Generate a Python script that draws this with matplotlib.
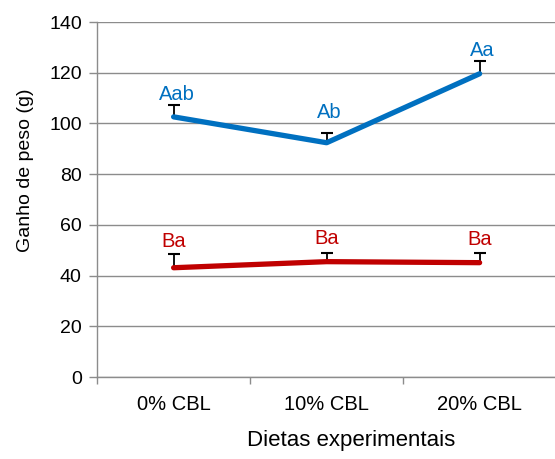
import matplotlib
matplotlib.use("Agg")
import matplotlib.pyplot as plt
import numpy as np

plt.rcParams['font.family'] = ['Liberation Sans', 'DejaVu Sans']

# data
dietas = ["0% CBL", "10% CBL", "20% CBL"]
ganho_a = [102.6, 92.4, 119.6]
erro_a = [4.7, 4.0, 5.1]
letras_a = ["Aab", "Ab", "Aa"]
pos_letras_a = [109.2, 102.1, 126.6]

ganho_b = [43.1, 45.5, 45.1]
erro_b = [5.4, 3.5, 3.9]
letras_b = ["Ba", "Ba", "Ba"]
pos_letras_b = [51.3, 52.4, 52.2]

azul = "#0070C0"
vermelho = "#C00000"
cinza = "#8c8c8c"

fig = plt.figure(figsize=(5.55, 4.59), dpi=100)
ax = fig.add_axes([0.175, 0.1786, 0.827, 0.7734])

x = np.arange(len(dietas))

# upper-only error bars, behind the lines
for g, e in [(ganho_a, erro_a), (ganho_b, erro_b)]:
    topo = np.array(g) + np.array(e)
    ax.vlines(x, g, topo, color='black', lw=1.3, zorder=2)
    ax.plot(x, topo, ls='none', marker='_', ms=8, mew=1.5, color='black', zorder=2)

ax.plot(x, ganho_a, color=azul, lw=3.8, solid_capstyle='round', zorder=3)
ax.plot(x, ganho_b, color=vermelho, lw=3.8, solid_capstyle='round', zorder=3)

for i in range(3):
    ax.text(x[i] + 0.02, pos_letras_a[i], letras_a[i], color=azul, fontsize=14.5,
            ha='center', va='baseline')
    ax.text(x[i], pos_letras_b[i], letras_b[i], color=vermelho, fontsize=14.5,
            ha='center', va='baseline')

ax.set_xlim(-0.5, 2.5)
ax.set_ylim(0, 140)
ax.set_yticks(range(0, 141, 20))
ax.yaxis.grid(True, color=cinza, lw=1.0)
ax.set_axisbelow(True)

ax.set_xticks(x)
ax.set_xticklabels(dietas)
ax.set_xticks([-0.5, 0.5, 1.5, 2.5], minor=True)
ax.tick_params(axis='x', which='major', length=0, pad=13, labelsize=14.5)
ax.tick_params(axis='x', which='minor', length=5, width=1.0, color=cinza)
ax.tick_params(axis='y', length=6, width=1.0, color=cinza, pad=5, labelsize=14)

for s in ['top', 'right']:
    ax.spines[s].set_visible(False)
for s in ['left', 'bottom']:
    ax.spines[s].set_color(cinza)
    ax.spines[s].set_linewidth(1.0)

ax.set_xlabel("Dietas experimentais", fontsize=16)
ax.xaxis.set_label_coords(0.553, -0.149)
ax.set_ylabel("Ganho de peso (g)", fontsize=14, va='center')
ax.yaxis.set_label_coords(-0.157, 0.583)

fig.savefig("out.png", dpi=100)
